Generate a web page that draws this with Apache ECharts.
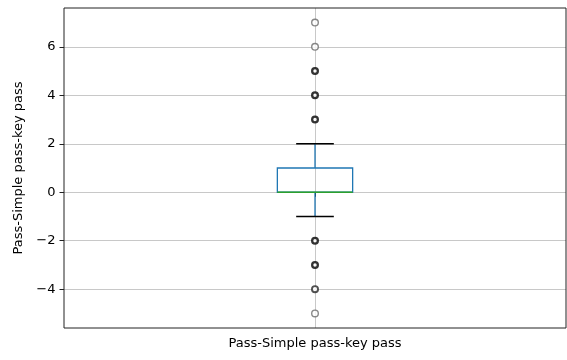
<!DOCTYPE html>
<html>
<head>
<meta charset="utf-8">
<script src="https://cdn.jsdelivr.net/npm/echarts@6/dist/echarts.min.js"></script>
<style>
  html, body { margin: 0; padding: 0; background: #fff; }
  #chart { width: 567px; height: 360px; }
</style>
</head>
<body>
<div id="chart"></div>
<script>
// Box statistics for the single column
const categories = ['Pass-Simple pass-key pass'];
const whiskerLow = [-1];
const q1 = [0];
const median = [0];
const q3 = [1];
const whiskerHigh = [2];

// Flier values, grouped by how many points stack on each value
const outliersFaint = [7, 6, -5];
const outliersMid = [-4];
const outliersDense = [5, 4, 3, -2, -3];

// Y axis ticks and range
const yTicks = [-4, -2, 0, 2, 4, 6];
const yMin = -5.6;
const yMax = 7.6;

const FONT = 'DejaVu Sans';
const BOX_COLOR = '#1f77b4';
const MEDIAN_COLOR = '#2ca02c';
const CAP_COLOR = '#000000';
const GRID_COLOR = '#c8c8c8';
const LW = 1.3;

const boxData = categories.map((c, i) =>
  [i, whiskerLow[i], q1[i], median[i], q3[i], whiskerHigh[i]]);

function flierSeries(values, edge, width) {
  return {
    type: 'scatter',
    data: values.map(v => [0, v]),
    symbol: 'circle',
    symbolSize: 8 - width,
    itemStyle: { color: '#ffffff', borderColor: edge, borderWidth: width },
    emphasis: { disabled: true },
    z: 5
  };
}

const chart = echarts.init(document.getElementById('chart'), null, { renderer: 'canvas' });
chart.setOption({
  animation: false,
  backgroundColor: '#ffffff',
  textStyle: { fontFamily: FONT },
  grid: {
    left: 64, right: 1, top: 8, bottom: 32,
    show: true, borderColor: '#222', borderWidth: 1, backgroundColor: 'transparent',
    z: 10
  },
  xAxis: {
    type: 'category',
    data: categories,
    boundaryGap: true,
    axisLine: { show: false },
    axisTick: { show: true, alignWithLabel: true, length: 4.5, lineStyle: { color: '#222', width: 1 } },
    axisLabel: { color: '#000', fontFamily: FONT, fontSize: 13, margin: 9 },
    splitLine: { show: true, alignWithLabel: true, lineStyle: { color: GRID_COLOR, width: 1 } }
  },
  yAxis: {
    type: 'value',
    min: yMin,
    max: yMax,
    name: 'Pass-Simple pass-key pass',
    nameLocation: 'middle',
    nameGap: 31,
    nameTextStyle: { color: '#000', fontFamily: FONT, fontSize: 13 },
    axisLine: { show: false },
    axisTick: { show: true, customValues: yTicks, length: 4.5, lineStyle: { color: '#222', width: 1 } },
    axisLabel: {
      customValues: yTicks,
      color: '#000', fontFamily: FONT, fontSize: 13, margin: 8.5,
      formatter: v => (v < 0 ? '\u2212' + Math.abs(v) : String(v))
    },
    splitLine: { show: true, customValues: yTicks, lineStyle: { color: GRID_COLOR, width: 1 } }
  },
  series: [
    {
      type: 'custom',
      data: boxData,
      encode: { x: 0, y: [1, 2, 3, 4, 5] },
      z: 3,
      renderItem: function (params, api) {
        const i = api.value(0);
        const lo = api.coord([i, api.value(1)]);
        const b1 = api.coord([i, api.value(2)]);
        const md = api.coord([i, api.value(3)]);
        const b3 = api.coord([i, api.value(4)]);
        const hi = api.coord([i, api.value(5)]);
        const band = api.size([1, 0])[0];
        const bw = band * 0.15;
        const cw = bw * 0.5;
        const x = lo[0];
        const ln = (x1, y1, x2, y2, color) => ({
          type: 'line',
          shape: { x1, y1, x2, y2 },
          style: { stroke: color, lineWidth: LW }
        });
        return {
          type: 'group',
          children: [
            ln(x, b1[1], x, lo[1], BOX_COLOR),
            ln(x, b3[1], x, hi[1], BOX_COLOR),
            ln(x - cw / 2, lo[1], x + cw / 2, lo[1], CAP_COLOR),
            ln(x - cw / 2, hi[1], x + cw / 2, hi[1], CAP_COLOR),
            {
              type: 'rect',
              shape: { x: x - bw / 2, y: b3[1], width: bw, height: b1[1] - b3[1] },
              style: { fill: 'none', stroke: BOX_COLOR, lineWidth: LW }
            },
            ln(x - bw / 2, md[1], x + bw / 2, md[1], MEDIAN_COLOR)
          ]
        };
      }
    },
    flierSeries(outliersFaint, '#6a6a6a', 1.4),
    flierSeries(outliersMid, '#262626', 1.9),
    flierSeries(outliersDense, '#000000', 2.3)
  ]
});
</script>
</body>
</html>
